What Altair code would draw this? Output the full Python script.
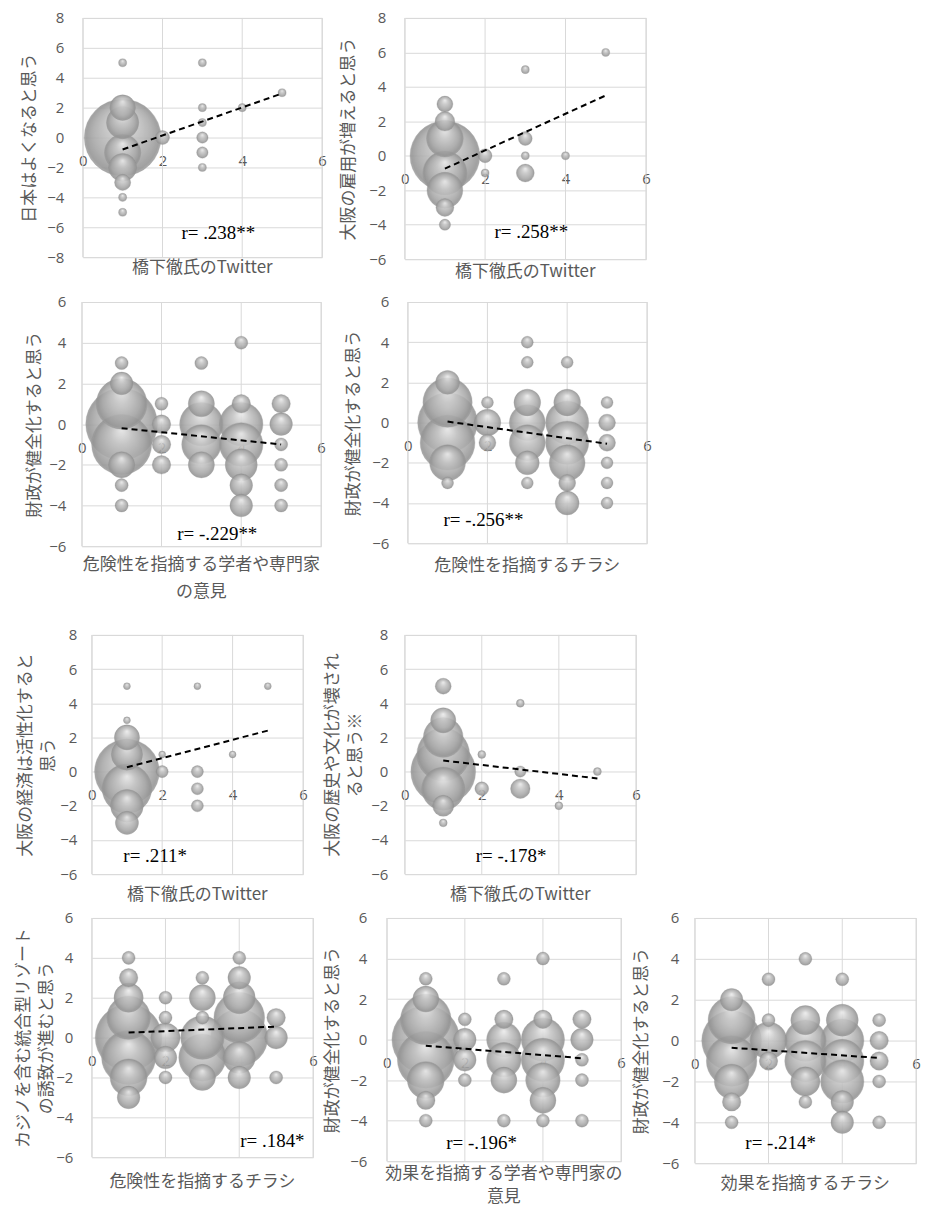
import altair as alt
import pandas as pd

# ---------------- data ----------------
X_TICKS = [0, 2, 4, 6]
Y_TICKS_A = [-8, -6, -4, -2, 0, 2, 4, 6, 8]
Y_TICKS_B = [-6, -4, -2, 0, 2, 4, 6, 8]
Y_TICKS_C = [-6, -4, -2, 0, 2, 4, 6]

# Panel 1: 日本はよくなると思う x 橋下徹氏のTwitter
P1_X = [1, 1, 1, 1, 1, 1, 1, 1, 1, 2, 3, 3, 3, 3, 3, 3, 4, 5]
P1_Y = [5, 2, 1, 0, -1, -2, -3, -4, -5, 0, 5, 2, 1, 0, -1, -2, 2, 3]
P1_N = [1, 10, 16, 90, 20, 12, 4, 1, 1, 3, 1, 1, 1, 2, 2, 1, 1, 1]
P1_TREND_X = [1, 5]
P1_TREND_Y = [-0.8, 2.95]
P1_R = "r= .238**"
P1_R_POS = [3.4, -6.4]

# Panel 2: 大阪の雇用が増えると思う x 橋下徹氏のTwitter
P2_X = [1, 1, 1, 1, 1, 1, 1, 1, 2, 2, 3, 3, 3, 3, 4, 5]
P2_Y = [3, 2, 1, 0, -1, -2, -3, -4, 0, -1, 5, 1, 0, -1, 0, 6]
P2_N = [4, 6, 21, 76, 30, 20, 5, 2, 3, 1, 1, 3, 1, 5, 1, 1]
P2_TREND_X = [1, 5]
P2_TREND_Y = [-0.75, 3.5]
P2_R = "r= .258**"
P2_R_POS = [3.15, -4.45]

# Panel 3: 財政が健全化すると思う x 危険性を指摘する学者や専門家の意見
P3_X = [1, 1, 1, 1, 1, 1, 1, 1, 2, 2, 2, 2, 3, 3, 3, 3, 3,
        4, 4, 4, 4, 4, 4, 4, 5, 5, 5, 5, 5, 5]
P3_Y = [3, 2, 1, 0, -1, -2, -3, -4, 1, 0, -1, -2, 3, 1, 0, -1, -2,
        4, 1, 0, -1, -2, -3, -4, 1, 0, -1, -2, -3, -4]
P3_N = [1, 3, 15, 30, 21, 4, 1, 1, 1, 2, 2, 2, 1, 4, 11, 9, 4,
        1, 2, 11, 11, 6, 3, 3, 2, 3, 1, 1, 1, 1]
P3_TREND_X = [1, 5]
P3_TREND_Y = [-0.2, -1.0]
P3_R = "r= -.229**"
P3_R_POS = [3.4, -5.4]

# Panel 4: 財政が健全化すると思う x 危険性を指摘するチラシ
P4_X = [1, 1, 1, 1, 1, 1, 2, 2, 2, 3, 3, 3, 3, 3, 3, 3,
        4, 4, 4, 4, 4, 4, 4, 5, 5, 5, 5, 5, 5]
P4_Y = [2, 1, 0, -1, -2, -3, 1, 0, -1, 4, 3, 1, 0, -1, -2, -3,
        3, 1, 0, -1, -2, -3, -4, 1, 0, -1, -2, -3, -4]
P4_N = [4, 17, 25, 21, 9, 1, 1, 5, 2, 1, 1, 5, 9, 9, 4, 1,
        1, 5, 13, 13, 9, 2, 4, 1, 2, 2, 1, 1, 1]
P4_TREND_X = [1, 5]
P4_TREND_Y = [0.05, -1.05]
P4_R = "r= -.256**"
P4_R_POS = [1.9, -4.83]

# Panel 5: 大阪の経済は活性化すると思う x 橋下徹氏のTwitter
P5_X = [1, 1, 1, 1, 1, 1, 1, 1, 2, 2, 3, 3, 3, 3, 4, 5]
P5_Y = [5, 3, 2, 1, 0, -1, -2, -3, 1, 0, 5, 0, -1, -2, 1, 5]
P5_N = [1, 1, 13, 20, 86, 50, 22, 11, 1, 3, 1, 3, 3, 3, 1, 1]
P5_TREND_X = [1, 5]
P5_TREND_Y = [0.25, 2.4]
P5_R = "r= .211*"
P5_R_POS = [1.8, -4.96]

# Panel 6: 大阪の歴史や文化が壊されると思う※ x 橋下徹氏のTwitter
P6_X = [1, 1, 1, 1, 1, 1, 1, 1, 2, 2, 3, 3, 3, 4, 5]
P6_Y = [5, 3, 2, 1, 0, -1, -2, -3, 1, -1, 4, 0, -1, -2, 0]
P6_N = [4, 10, 25, 44, 66, 29, 7, 1, 1, 3, 1, 2, 6, 1, 1]
P6_TREND_X = [1, 5]
P6_TREND_Y = [0.65, -0.4]
P6_R = "r= -.178*"
P6_R_POS = [2.76, -4.92]

# Panel 7: カジノを含む統合型リゾートの誘致が進むと思う x 危険性を指摘するチラシ
P7_X = [1, 1, 1, 1, 1, 1, 1, 1, 2, 2, 2, 2, 2, 3, 3, 3, 3, 3, 3,
        4, 4, 4, 4, 4, 4, 4, 5, 5, 5]
P7_Y = [4, 3, 2, 1, 0, -1, -2, -3, 2, 1, 0, -1, -2, 3, 2, 1, 0, -1, -2,
        4, 3, 2, 1, 0, -1, -2, 1, 0, -2]
P7_N = [1, 2, 5, 11, 26, 17, 8, 3, 1, 1, 5, 3, 1, 1, 4, 1, 11, 13, 4,
        1, 3, 6, 15, 19, 6, 3, 2, 3, 1]
P7_TREND_X = [1, 5]
P7_TREND_Y = [0.25, 0.55]
P7_R = "r= .184*"
P7_R_POS = [4.9, -5.17]

# Panel 8: 財政が健全化すると思う x 効果を指摘する学者や専門家の意見
P8_X = [1, 1, 1, 1, 1, 1, 1, 1, 2, 2, 2, 2, 3, 3, 3, 3, 3, 3,
        4, 4, 4, 4, 4, 4, 4, 5, 5, 5, 5, 5]
P8_Y = [3, 2, 1, 0, -1, -2, -3, -4, 1, 0, -1, -2, 3, 1, 0, -1, -2, -4,
        4, 1, 0, -1, -2, -3, -4, 1, 0, -1, -2, -4]
P8_N = [1, 4, 15, 27, 19, 8, 2, 1, 1, 3, 3, 1, 1, 2, 7, 7, 4, 1,
        1, 2, 11, 11, 7, 4, 1, 2, 3, 1, 1, 1]
P8_TREND_X = [1, 5]
P8_TREND_Y = [-0.3, -0.92]
P8_R = "r= -.196*"
P8_R_POS = [2.43, -5.1]

# Panel 9: 財政が健全化すると思う x 効果を指摘するチラシ
P9_X = [1, 1, 1, 1, 1, 1, 1, 2, 2, 2, 2, 3, 3, 3, 3, 3, 3,
        4, 4, 4, 4, 4, 4, 4, 5, 5, 5, 5, 5]
P9_Y = [2, 1, 0, -1, -2, -3, -4, 3, 1, 0, -1, 4, 1, 0, -1, -2, -3,
        3, 1, 0, -1, -2, -3, -4, 1, 0, -1, -2, -4]
P9_N = [3, 13, 21, 15, 7, 2, 1, 1, 1, 8, 2, 1, 5, 10, 10, 5, 1,
        1, 6, 11, 11, 11, 3, 3, 1, 2, 2, 1, 1]
P9_TREND_X = [1, 5]
P9_TREND_Y = [-0.35, -0.85]
P9_R = "r= -.214*"
P9_R_POS = [2.33, -5.03]

# ---------------- style ----------------
GRID = "#d9d9d9"
TXT = "#595959"
JP = "Noto Sans CJK JP"
NUM = "Open Sans"
SERIF = "Liberation Serif"

SPHERE = {
    "gradient": "radial",
    "x1": 0.5, "y1": 0.25, "r1": 0.0,
    "x2": 0.5, "y2": 0.5, "r2": 0.5,
    "stops": [
        {"offset": 0.0, "color": "#ececec"},
        {"offset": 0.35, "color": "#c6c6c6"},
        {"offset": 0.75, "color": "#a8a8a8"},
        {"offset": 0.95, "color": "#939393"},
        {"offset": 1.0, "color": "#a3a3a3"},
    ],
}


def panel(xs, ys, ns, tx, ty, rtext, rpos, ydom, yticks, ytitle, xtitle,
          w, h, dmax, lp, tp, xoff=0, tlh=23, xlh=23):
    off = -h * (0 - ydom[0]) / (ydom[1] - ydom[0])
    xscale = alt.Scale(domain=[0, 6], nice=False, zero=False)
    yscale = alt.Scale(domain=ydom, nice=False, zero=False)
    xaxis = alt.Axis(values=X_TICKS, offset=off, labelPadding=16, grid=False,
                     domain=False, ticks=False, title=None, labelFont=NUM,
                     labelFontSize=15, labelColor=TXT, labelFlush=False,
                     labelOverlap=False)
    yaxis = alt.Axis(values=yticks, grid=True, gridColor=GRID, gridWidth=1,
                     domain=False, ticks=False, labelPadding=lp,
                     labelFont=NUM, labelFontSize=15, labelColor=TXT,
                     title=ytitle, titleFont=JP, titleFontSize=17,
                     titleFontWeight="normal", titleColor=TXT,
                     titlePadding=tp, titleLineHeight=tlh, labelOverlap=False)

    grid_df = pd.DataFrame({"gx": X_TICKS})
    vgrid = alt.Chart(grid_df).mark_rule(color=GRID, strokeWidth=1).encode(
        x=alt.X("gx:Q", scale=xscale, axis=xaxis)
    )

    df = pd.DataFrame({"x": xs, "y": ys, "n": ns})
    bubbles = alt.Chart(df).mark_circle(
        fill=SPHERE, fillOpacity=0.88, stroke="#7f7f7f", strokeWidth=0.6,
        strokeOpacity=0.4
    ).encode(
        x=alt.X("x:Q", scale=xscale, axis=xaxis),
        y=alt.Y("y:Q", scale=yscale, axis=yaxis),
        size=alt.Size("n:Q", scale=alt.Scale(type="linear", zero=True,
                                             range=[0, dmax * dmax]),
                      legend=None),
        order=alt.Order("n:Q", sort="descending"),
    )

    tdf = pd.DataFrame({"tx": tx, "ty": ty})
    trend = alt.Chart(tdf).mark_line(color="black", strokeWidth=2,
                                     strokeDash=[6, 4]).encode(
        x=alt.X("tx:Q", scale=xscale, axis=xaxis),
        y=alt.Y("ty:Q", scale=yscale, axis=yaxis),
    )

    rdf = pd.DataFrame({"rx": [rpos[0]], "ry": [rpos[1]], "t": [rtext]})
    rlab = alt.Chart(rdf).mark_text(font=SERIF, fontSize=19, color="black",
                                    align="center", baseline="middle").encode(
        x=alt.X("rx:Q", scale=xscale, axis=xaxis),
        y=alt.Y("ry:Q", scale=yscale, axis=yaxis),
        text="t:N",
    )

    return alt.layer(vgrid, bubbles, trend, rlab).properties(
        width=w, height=h,
        title=alt.TitleParams(text=xtitle, orient="bottom", anchor="middle",
                              frame="group", font=JP, fontSize=17,
                              fontWeight="normal", color=TXT, offset=xoff,
                              lineHeight=xlh),
    )


def spacer(w):
    sdf = pd.DataFrame({"s": [0]})
    return alt.Chart(sdf).mark_text(text="").properties(width=w, height=1)


p1 = panel(P1_X, P1_Y, P1_N, P1_TREND_X, P1_TREND_Y, P1_R, P1_R_POS,
           [-8, 8], Y_TICKS_A, "日本はよくなると思う", "橋下徹氏のTwitter",
           240, 240, 77, 19, 8, xoff=-5)
p2 = panel(P2_X, P2_Y, P2_N, P2_TREND_X, P2_TREND_Y, P2_R, P2_R_POS,
           [-6, 8], Y_TICKS_B, "大阪の雇用が増えると思う", "橋下徹氏のTwitter",
           242, 242, 70, 19, 11, xoff=-3)
p3 = panel(P3_X, P3_Y, P3_N, P3_TREND_X, P3_TREND_Y, P3_R, P3_R_POS,
           [-6, 6], Y_TICKS_C, "財政が健全化すると思う",
           ["危険性を指摘する学者や専門家", "の意見"],
           240, 245, 72, 16, 5, xoff=3, xlh=27)
p4 = panel(P4_X, P4_Y, P4_N, P4_TREND_X, P4_TREND_Y, P4_R, P4_R_POS,
           [-6, 6], Y_TICKS_C, "財政が健全化すると思う", "危険性を指摘するチラシ",
           240, 242, 60, 19, 9, xoff=7)
p5 = panel(P5_X, P5_Y, P5_N, P5_TREND_X, P5_TREND_Y, P5_R, P5_R_POS,
           [-6, 8], Y_TICKS_B, ["大阪の経済は活性化すると", "思う"],
           "橋下徹氏のTwitter", 212, 240, 65, 15, 2, xoff=5)
p6 = panel(P6_X, P6_Y, P6_N, P6_TREND_X, P6_TREND_Y, P6_R, P6_R_POS,
           [-6, 8], Y_TICKS_B, ["大阪の歴史や文化が壊され", "ると思う※"],
           "橋下徹氏のTwitter", 232, 240, 65, 17, 6, xoff=5)
p7 = panel(P7_X, P7_Y, P7_N, P7_TREND_X, P7_TREND_Y, P7_R, P7_R_POS,
           [-6, 6], Y_TICKS_C, ["カジノを含む統合型リゾート", "の誘致が進むと思う"],
           "危険性を指摘するチラシ", 222, 240, 67, 19, 0, xoff=9)
p8 = panel(P8_X, P8_Y, P8_N, P8_TREND_X, P8_TREND_Y, P8_R, P8_R_POS,
           [-6, 6], Y_TICKS_C, "財政が健全化すると思う",
           ["効果を指摘する学者や専門家の", "意見"],
           235, 244, 68, 20, 8, xoff=-3, xlh=23)
p9 = panel(P9_X, P9_Y, P9_N, P9_TREND_X, P9_TREND_Y, P9_R, P9_R_POS,
           [-6, 6], Y_TICKS_C, "財政が健全化すると思う", "効果を指摘するチラシ",
           222, 246, 60, 16, 11, xoff=5)

row1 = alt.hconcat(spacer(12), p1, spacer(12), p2,
                   spacing=0).resolve_scale(size="independent")
row2 = alt.hconcat(spacer(17), p3, spacer(18), p4,
                   spacing=0).resolve_scale(size="independent")
row3 = alt.hconcat(spacer(8), p5, spacer(15), p6,
                   spacing=0).resolve_scale(size="independent")
row4 = alt.hconcat(spacer(6), p7, spacer(5), p8, spacer(6), p9,
                   spacing=0).resolve_scale(size="independent")

top = alt.concat(row1, row2, columns=1, align="none", spacing=13).resolve_scale(
    size="independent")
bottom = alt.concat(row3, row4, columns=1, align="none", spacing=6).resolve_scale(
    size="independent")

chart = alt.concat(top, bottom, columns=1, align="none", spacing=26).resolve_scale(
    size="independent"
).properties(
    padding={"left": 0, "top": 0, "right": 0, "bottom": 0}
).configure_view(stroke=None).configure(background="white")

chart.save("out.html", embed_options={"renderer": "svg", "actions": False})
